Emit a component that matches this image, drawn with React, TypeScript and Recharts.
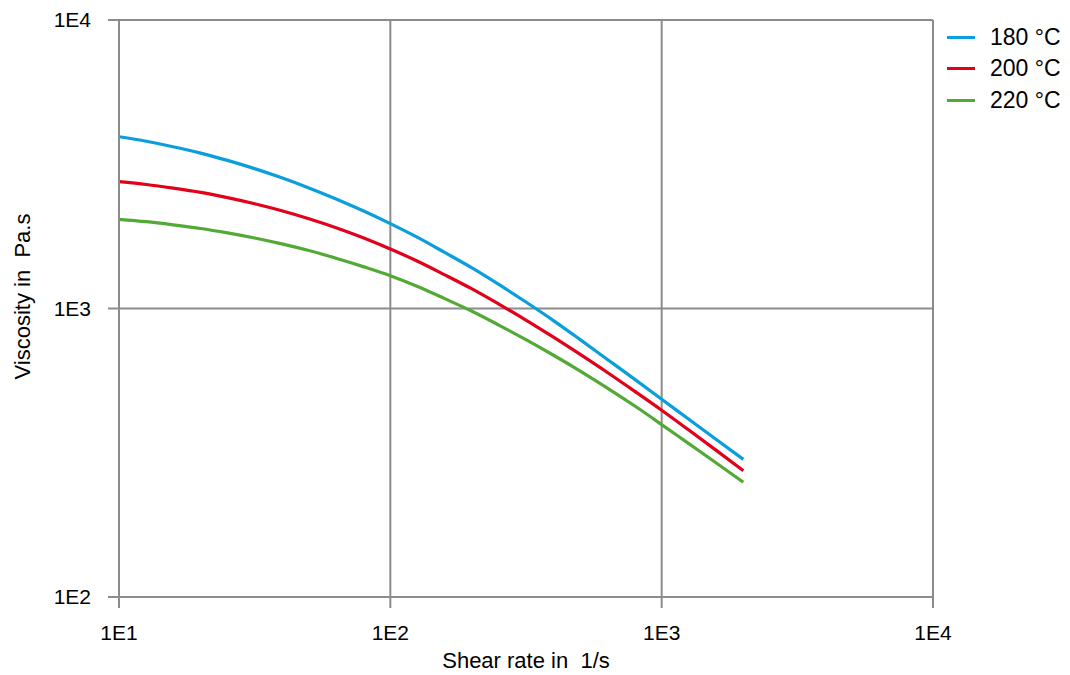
import React from "react";
import {
  LineChart,
  Line,
  XAxis,
  YAxis,
  CartesianGrid,
  Legend,
  Label,
} from "recharts";

// shear rate (1/s) and viscosity (Pa.s)
const shearRate = [
  10, 12.6, 15.8, 20, 25.1, 31.6, 39.8, 50.1, 63.1, 79.4, 100, 126, 158, 200,
  251, 316, 398, 501, 631, 794, 1000, 1259, 1585, 2000,
];
const eta180 = [
  3939, 3801, 3638, 3457, 3261, 3054, 2838, 2618, 2398, 2181, 1968, 1763, 1567,
  1383, 1212, 1053, 910, 780, 666, 569, 485, 413, 352, 300,
];
const eta200 = [
  2751, 2690, 2614, 2526, 2423, 2308, 2183, 2048, 1906, 1759, 1608, 1458, 1311,
  1169, 1036, 912, 797, 693, 600, 517, 444, 379, 323, 274,
];
const eta220 = [
  2038, 1999, 1950, 1894, 1828, 1755, 1675, 1588, 1494, 1397, 1299, 1192, 1084,
  978, 876, 780, 690, 607, 530, 460, 396, 340, 292, 250,
];

const xTicks = [10, 100, 1000, 10000];
const yTicks = [100, 1000, 10000];

const seriesNames = ["180 °C", "200 °C", "220 °C"];
const COLORS = ["#0a9edc", "#e2001a", "#52a935"];

const data = shearRate.map((x, i) => ({
  x,
  t180: eta180[i],
  t200: eta200[i],
  t220: eta220[i],
}));

const FONT = "'Liberation Sans', Arial, Helvetica, sans-serif";
const GRID = "#8c8c8c";

const expLabel = (v: number) => `1E${Math.round(Math.log10(v))}`;

const renderLegend = (props: any) => {
  const { payload } = props;
  return (
    <div style={{ fontFamily: FONT }}>
      {payload.map((entry: any, index: number) => (
        <div
          key={`item-${index}`}
          style={{ display: "flex", alignItems: "center", height: 31.5 }}
        >
          <div
            style={{
              width: 28,
              height: 3,
              background: entry.color,
              marginRight: 15,
            }}
          />
          <span style={{ color: "#000", fontSize: 23, whiteSpace: "nowrap" }}>
            {entry.value}
          </span>
        </div>
      ))}
    </div>
  );
};

const App = () => {
  const keys = ["t180", "t200", "t220"];
  return (
    <div style={{ position: "absolute", left: 0, top: 0, background: "#fff" }}>
      <LineChart
        width={1070}
        height={675}
        data={data}
        margin={{ top: 20, right: 137, bottom: 0, left: 0 }}
      >
        <CartesianGrid stroke={GRID} strokeWidth={2} />
        <XAxis
          dataKey="x"
          type="number"
          scale="log"
          domain={[10, 10000]}
          ticks={xTicks}
          tickFormatter={expLabel}
          height={78}
          stroke={GRID}
          strokeWidth={2}
          tickSize={11}
          tickMargin={17}
          tick={{ fill: "#000", fontSize: 21, fontFamily: FONT }}
          allowDataOverflow
        >
          <Label
            value={"Shear rate in\u00a0 1/s"}
            position="insideBottom"
            offset={7}
            style={{ fill: "#000", fontSize: 22, fontFamily: FONT }}
          />
        </XAxis>
        <YAxis
          type="number"
          scale="log"
          domain={[100, 10000]}
          ticks={yTicks}
          tickFormatter={expLabel}
          width={119}
          stroke={GRID}
          strokeWidth={2}
          tickSize={11}
          tickMargin={17}
          tick={{ fill: "#000", fontSize: 21, fontFamily: FONT }}
          allowDataOverflow
        >
          <Label
            value={"Viscosity in\u00a0 Pa.s"}
            position="center"
            angle={-90}
            dx={-37}
            dy={-12}
            style={{ fill: "#000", fontSize: 22, fontFamily: FONT, textAnchor: "middle" }}
          />
        </YAxis>
        <Legend
          layout="horizontal"
          verticalAlign="middle"
          align="center"
          content={renderLegend}
          wrapperStyle={{ top: 21.5, left: 947, right: "auto", bottom: "auto", width: 120 }}
        />
        {keys.map((k, i) => (
          <Line
            key={k}
            dataKey={k}
            name={seriesNames[i]}
            type="monotone"
            stroke={COLORS[i]}
            strokeWidth={3.2}
            dot={false}
            activeDot={false}
            isAnimationActive={false}
          />
        ))}
      </LineChart>
    </div>
  );
};

export default App;
